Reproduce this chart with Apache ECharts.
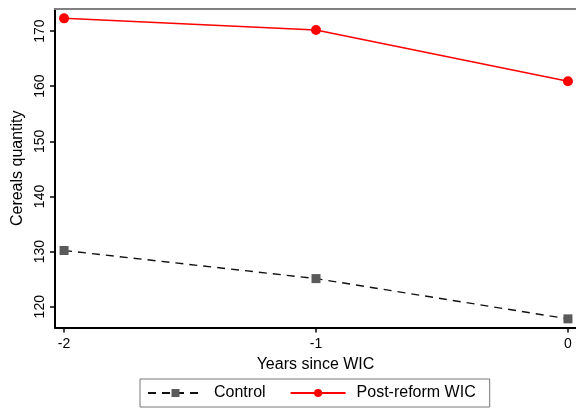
<!DOCTYPE html>
<html>
<head>
<meta charset="utf-8">
<script src="https://cdn.jsdelivr.net/npm/echarts@6/dist/echarts.min.js"></script>
<style>
  html, body { margin: 0; padding: 0; background: #fff; }
  #chart { width: 576px; height: 410px; }
</style>
</head>
<body>
<div id="chart"></div>
<script>
var years = [-2, -1, 0]
var controlValues = [130.2, 125.1, 117.8]
var reformValues = [172.3, 170.2, 160.9]
var yTicks = [120, 130, 140, 150, 160, 170]

var font = 'Liberation Sans, Arial, Helvetica, sans-serif'
var chart = echarts.init(document.getElementById('chart'))

function pairs(xs, ys) {
  return xs.map(function (x, i) { return [x, ys[i]] })
}

chart.setOption({
  animation: false,
  grid: { left: 55, right: 0, top: 9, bottom: 82.5 },
  legend: {
    left: 140,
    top: 379,
    orient: 'horizontal',
    padding: [6, 14, 6, 7],
    borderColor: '#777',
    borderWidth: 1,
    itemWidth: 55,
    itemHeight: 10,
    itemGap: 24,
    textStyle: { fontFamily: font, fontSize: 16, color: '#000', padding: [0, 0, 0, 6] },
    data: ['Control', 'Post-reform WIC']
  },
  xAxis: [
    {
      type: 'value',
      min: -2.036,
      max: 0.032,
      name: 'Years since WIC',
      nameLocation: 'middle',
      nameGap: 28,
      nameTextStyle: { fontFamily: font, fontSize: 16, color: '#000' },
      splitLine: { show: false },
      axisLine: { show: true, onZero: false, lineStyle: { color: '#000', width: 2 } },
      axisTick: { show: true, length: 5, customValues: years, lineStyle: { color: '#000', width: 1.5 } },
      axisLabel: { customValues: years, margin: 10, fontFamily: font, fontSize: 14, color: '#000' }
    },
    {
      type: 'value',
      position: 'top',
      min: -2.036,
      max: 0.032,
      splitLine: { show: false },
      axisLine: { show: true, onZero: false, lineStyle: { color: '#808080', width: 2 } },
      axisTick: { show: false },
      axisLabel: { show: false }
    }
  ],
  yAxis: {
    type: 'value',
    min: 116.23,
    max: 174,
    name: 'Cereals quantity',
    nameLocation: 'middle',
    nameGap: 27,
    nameTextStyle: { fontFamily: font, fontSize: 16, color: '#000' },
    splitLine: { show: false },
    axisLine: { show: true, onZero: false, lineStyle: { color: '#000', width: 2 } },
    axisTick: { show: true, length: 5, customValues: yTicks, lineStyle: { color: '#000', width: 1.5 } },
    axisLabel: { customValues: yTicks, rotate: 90, margin: 8, fontFamily: font, fontSize: 14, color: '#000' }
  },
  series: [
    {
      name: 'Control',
      type: 'line',
      data: pairs(years, controlValues),
      symbol: 'rect',
      symbolSize: 9,
      itemStyle: { color: '#5a5a5a' },
      lineStyle: { color: '#111', width: 1.4, type: [8, 6] }
    },
    {
      name: 'Post-reform WIC',
      type: 'line',
      data: pairs(years, reformValues),
      symbol: 'circle',
      symbolSize: 10,
      itemStyle: { color: '#ff0000' },
      lineStyle: { color: '#ff0000', width: 1.5 }
    }
  ]
})
</script>
</body>
</html>
